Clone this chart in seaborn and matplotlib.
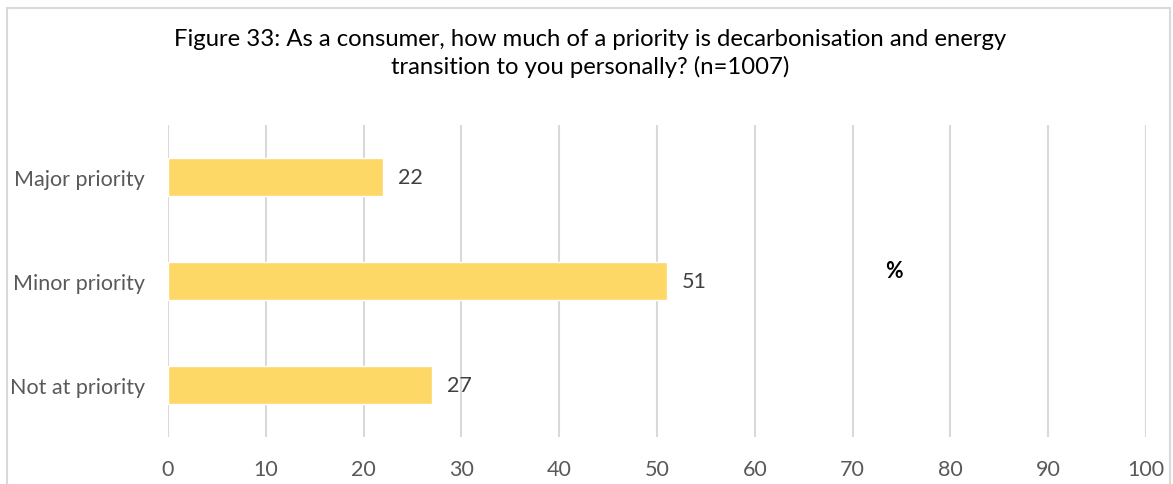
import matplotlib
matplotlib.use("Agg")
import matplotlib.pyplot as plt
import seaborn as sns
import pandas as pd
from matplotlib.patches import Rectangle

categories = ["Major priority", "Minor priority", "Not at priority"]
values = [22, 51, 27]
x_ticks = [0, 10, 20, 30, 40, 50, 60, 70, 80, 90, 100]

title = ("Figure 33: As a consumer, how much of a priority is decarbonisation and energy\n"
         "transition to you personally? (n=1007)")

sns.set_theme(style="white")
plt.rcParams["font.family"] = ["Lato", "DejaVu Sans"]

df = pd.DataFrame({"category": categories, "value": values})

fig = plt.figure(figsize=(11.73, 4.85), dpi=100)
ax = fig.add_axes([0.1432, 0.0969, 0.977 - 0.1432, 0.740 - 0.0969])

sns.barplot(data=df, y="category", x="value", orient="h", color="#FDD866",
            saturation=1, width=0.36, ax=ax)

ax.set_xlim(0, 100)
ax.set_xticks(x_ticks)
ax.xaxis.grid(True, color="#D9D9D9", linewidth=1.5)
ax.set_axisbelow(True)
for s in ax.spines.values():
    s.set_visible(False)
ax.set_xlabel("")
ax.set_ylabel("")
ax.tick_params(axis="x", length=0, pad=16, labelsize=15.5, labelcolor="#595959")
ax.tick_params(axis="y", length=0, pad=16.5, labelsize=15.5, labelcolor="#595959")

for c in ax.containers:
    ax.bar_label(c, labels=[str(v) for v in values], padding=11,
                 fontsize=15.5, color="#404040")

ax.text(74.2, 1.0, "%", fontsize=15.5, fontweight="bold", color="black",
        ha="center", va="bottom")

fig.text(0.503, 0.94, title, ha="center", va="top", fontsize=17.2,
         color="black", linespacing=1.3)

fig.patches.append(Rectangle((7 / 1173, -0.1), (1170 - 7) / 1173, 1 - 9 / 485 + 0.1,
                             transform=fig.transFigure, fill=False,
                             edgecolor="#D9D9D9", linewidth=1.5))

fig.savefig("out.png", dpi=100)
